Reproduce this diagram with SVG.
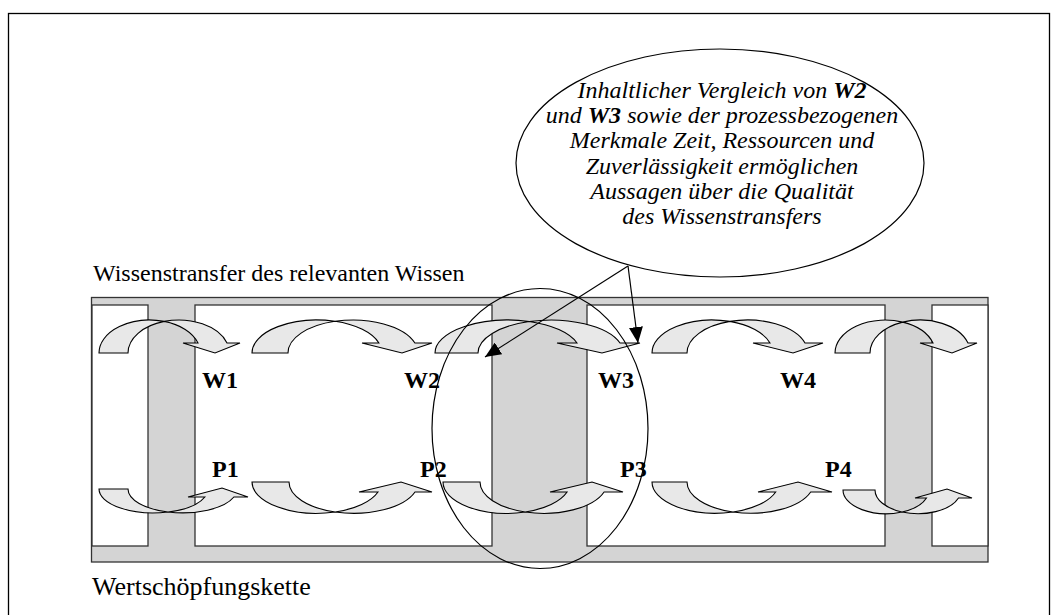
<svg xmlns="http://www.w3.org/2000/svg" width="1057" height="615" viewBox="0 0 1057 615">
<style>
.frame{fill:#d4d4d4;stroke:#333;stroke-width:1.3}
.pane{fill:#fff;stroke:#333;stroke-width:1.3}
.arr{fill:#e8e8e8;stroke:#000;stroke-width:1.1;stroke-linejoin:miter}
.lbl{font-family:"Liberation Serif","Times New Roman",serif;font-weight:bold;font-size:24px;fill:#000}
.cap1{font-family:"Liberation Serif","Times New Roman",serif;font-size:24px;fill:#000}
.cap2{font-family:"Liberation Serif","Times New Roman",serif;font-size:26px;fill:#000}
.bub{font-family:"Liberation Serif","Times New Roman",serif;font-style:italic;font-size:24px;fill:#000;text-anchor:middle}
.line{fill:none;stroke:#000;stroke-width:1.2}
</style>
<defs>
<marker id="ah" markerUnits="userSpaceOnUse" markerWidth="18" markerHeight="14" refX="16" refY="7" orient="auto">
<path d="M0,0 L16,7 L0,14 Z" fill="#000"/>
</marker>
</defs>
<rect x="8.5" y="13.5" width="1041" height="700" fill="#fff" stroke="#000" stroke-width="1.3"/>
<g id="chain">
<rect class="frame" x="91.5" y="297.5" width="896.5" height="264.5"/>
<rect class="pane" x="92" y="305" width="56" height="241"/>
<rect class="pane" x="195" y="305" width="297" height="241"/>
<rect class="pane" x="587" y="305" width="298" height="241"/>
<rect class="pane" x="932" y="305" width="56" height="241"/>
</g>
<g id="top-arrows">
<path class="arr" d="M99,353 A50.7,33 0 0 1 164.2,321.4 A50.7,33 0 0 1 227,343 L240,343 L215,353 L183,343 L198,343 A50.7,33 0 0 0 164.2,321.4 A50.7,33 0 0 0 128,353 Z"/>
<path class="arr" d="M252,353 A65,33 0 0 1 335,321.3 A65,33 0 0 1 414.9,343 L432,343 L402,353 L362,343 L378.9,343 A65,33 0 0 0 335,321.3 A65,33 0 0 0 288,353 Z"/>
<path class="arr" d="M435,353 A72.7,33 0 0 1 529.2,321.5 A72.7,33 0 0 1 620,343 L640,343 L602,353 L557,343 L577,343 A72.7,33 0 0 0 529.2,321.5 A72.7,33 0 0 0 478,353 Z"/>
<path class="arr" d="M652,353 A60.4,33 0 0 1 729.9,321.4 A60.4,33 0 0 1 805,343 L823,343 L793,353 L753,343 L770,343 A60.4,33 0 0 0 729.9,321.4 A60.4,33 0 0 0 687,353 Z"/>
<path class="arr" d="M835,353 A50.2,33 0 0 1 902.7,322.1 A50.2,33 0 0 1 968,343 L977,343 L952,353 L920,343 L933,343 A50.2,33 0 0 0 902.7,322.1 A50.2,33 0 0 0 870,353 Z"/>
</g>
<g id="bottom-arrows">
<path class="arr" d="M99,489 A54.5,23.9 0 0 0 168,512 A54.5,23.9 0 0 0 233.9,497 L248,497 L222,488 L188,497 L204.9,497 A54.5,23.9 0 0 1 168,512 A54.5,23.9 0 0 1 128,489 Z"/>
<path class="arr" d="M252,482 A64.7,31.3 0 0 0 335.2,512 A64.7,31.3 0 0 0 415,492 L432,492 L401,482 L359,492 L378,492 A64.7,31.3 0 0 1 335.2,512 A64.7,31.3 0 0 1 289,482 Z"/>
<path class="arr" d="M443,482 A63.7,31.3 0 0 0 525.2,512 A63.7,31.3 0 0 0 604.1,492 L623,492 L592,482 L550,492 L567.1,492 A63.7,31.3 0 0 1 525.2,512 A63.7,31.3 0 0 1 480,482 Z"/>
<path class="arr" d="M652,482 A63.5,31.2 0 0 0 733,512 A63.5,31.2 0 0 0 810.7,492 L832,492 L798,482 L758,492 L775.7,492 A63.5,31.2 0 0 1 733,512 A63.5,31.2 0 0 1 687,482 Z"/>
<path class="arr" d="M843,490 A43,23.7 0 0 0 902,512 A43,23.7 0 0 0 958.5,498 L972,498 L947,489 L915,498 L926.5,498 A43,23.7 0 0 1 902,512 A43,23.7 0 0 1 875,490 Z"/>
</g>
<g id="labels">
<text class="lbl" x="202" y="388">W1</text>
<text class="lbl" x="404" y="388">W2</text>
<text class="lbl" x="598" y="388">W3</text>
<text class="lbl" x="780" y="388">W4</text>
<text class="lbl" x="212" y="477">P1</text>
<text class="lbl" x="420" y="477">P2</text>
<text class="lbl" x="620" y="477">P3</text>
<text class="lbl" x="825" y="477">P4</text>
<text class="cap1" x="93" y="281">Wissenstransfer des relevanten Wissen</text>
<text class="cap2" x="92" y="595">Wertschöpfungskette</text>
</g>
<g id="focus">
<ellipse class="line" cx="540" cy="428.5" rx="108" ry="140"/>
</g>
<g id="callout">
<ellipse cx="720" cy="163" rx="204" ry="114" fill="#fff" stroke="#000" stroke-width="1.2"/>
<text class="bub" x="722" y="98">Inhaltlicher Vergleich von <tspan font-weight="bold">W2</tspan></text>
<text class="bub" x="722" y="123">und <tspan font-weight="bold">W3</tspan> sowie der prozessbezogenen</text>
<text class="bub" x="722" y="148">Merkmale Zeit, Ressourcen und</text>
<text class="bub" x="722" y="173.5">Zuverlässigkeit ermöglichen</text>
<text class="bub" x="722" y="199">Aussagen über die Qualität</text>
<text class="bub" x="722" y="224">des Wissenstransfers</text>
</g>
<g id="connectors">
<line class="line" x1="628" y1="266" x2="485" y2="357" marker-end="url(#ah)"/>
<line class="line" x1="628" y1="266" x2="638" y2="343" marker-end="url(#ah)"/>
</g>
</svg>
